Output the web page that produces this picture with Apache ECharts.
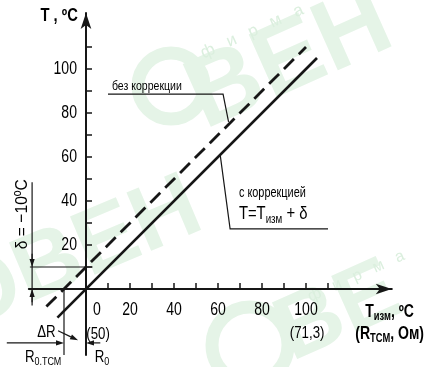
<!DOCTYPE html>
<html>
<head>
<meta charset="utf-8">
<script src="https://cdn.jsdelivr.net/npm/echarts@6/dist/echarts.min.js"></script>
<style>
  html, body { margin: 0; padding: 0; background: #fff; }
  #chart { width: 435px; height: 367px; }
</style>
</head>
<body>
<div id="chart"></div>
<script>
  const FONT = "'Liberation Sans', Arial, sans-serif";
  const INK = '#161616';
  const MARK = '#e5f4e7';

  // axis ticks / labels
  const xTicks = [10, 20, 30, 40, 50, 60, 70, 80, 90, 100, 110];
  const yTicks = [10, 20, 30, 40, 50, 60, 70, 80, 90, 100, 110];
  const xLabels = [0, 20, 40, 60, 80, 100];
  const yLabels = [20, 40, 60, 80, 100];

  // characteristic lines (T vs T_изм)
  const withoutCorrection = [[-18, -8], [100, 110]];   // dashed, shifted by +10
  const withCorrection = [[-13, -13], [105, 105]];     // solid, T = T_изм

  // thin helper lines
  const deltaLevel = [[-25.5, 10], [3, 10]];
  const deltaBar = [[-24.5, 48.5], [-24.5, -7.5]];
  const r0TcmDrop = [[-10, 0], [-10, -30]];
  const leaderWithout = [[10, 88.6], [62.3, 88.6], [64.8, 76]];
  const leaderWith = [[61, 61], [65.5, 27.3], [110, 27.3]];

  // arrows: [from, to]
  const arrowR0tcm = [[-36, -24.5], [-10, -24.5]];
  const arrowR0 = [[6.5, -24.5], [0, -24.5]];
  const arrowDR = [[-12.7, -19], [-3.6, -23.3]];
  const arrowDeltaTop = [[-24.5, 16], [-24.5, 10]];
  const arrowDeltaBottom = [[-24.5, -6], [-24.5, 0]];

  const helperLines = [deltaLevel, deltaBar, r0TcmDrop, leaderWithout, leaderWith];
  const arrows = [arrowR0tcm, arrowR0, arrowDR, arrowDeltaTop, arrowDeltaBottom];

  const rich = {
    t: { fontFamily: FONT, fontSize: 18, color: INK },
    b: { fontFamily: FONT, fontSize: 18, fontWeight: 'bold', color: INK },
    bsub: { fontFamily: FONT, fontSize: 12, fontWeight: 'bold', color: INK, verticalAlign: 'bottom', padding: [9, 0, 0, 0] },
    s: { fontFamily: FONT, fontSize: 13.5, color: INK },
    m: { fontFamily: FONT, fontSize: 14, color: INK },
    n: { fontFamily: FONT, fontSize: 17, color: INK },
    f: { fontFamily: FONT, fontSize: 19, color: INK },
    sub: { fontFamily: FONT, fontSize: 11.5, color: INK, verticalAlign: 'bottom', padding: [9, 0, 0, 0] },
    fsub: { fontFamily: FONT, fontSize: 12.5, color: INK, verticalAlign: 'bottom', padding: [10, 0, 0, 0] }
  };

  // annotations, anchored in data units
  const notes = [
    { text: '{b|T , ºC}', at: [-3.7, 124], align: 'right', sx: 0.82 },
    { text: '{s|без коррекции}', at: [11.8, 92.3], align: 'left' },
    { text: '{m|с коррекцией}', at: [69.5, 43.5], align: 'left' },
    { text: '{f|T=T}{fsub|изм}{f| + δ}', at: [69.5, 34], align: 'left' },
    { text: '{b|T}{bsub|изм}{b|, ºC}', at: [138, -10.5], align: 'center' },
    { text: '{b|(R}{bsub|ТСМ}{b|, Ом)}', at: [138, -20.5], align: 'center' },
    { text: '{n|(71,3)}', at: [100.5, -20], align: 'center' },
    { text: '{n|(50)}', at: [5.5, -20.5], align: 'center' },
    { text: '{n|ΔR}', at: [-18, -19.5], align: 'center' },
    { text: '{n|R}{sub|0.ТСМ}', at: [-19.5, -31], align: 'center' },
    { text: '{n|R}{sub|0}', at: [7.3, -31], align: 'center' },
    { text: '{n|δ = −10ºC}', at: [-29, 34], align: 'center', rotate: true, sx: 0.92 }
  ];
  yLabels.forEach(v => notes.push({ text: '{t|' + v + '}', at: [-4.1, v], align: 'right' }));
  xLabels.forEach(v => notes.push({ text: '{t|' + v + '}', at: [v === 0 ? 5 : v, -9.5], align: 'center' }));

  const chart = echarts.init(document.getElementById('chart'));

  chart.setOption({
    animation: false,
    backgroundColor: '#fff',
    grid: { left: 28.8, top: 12.9, width: 363, height: 342.1, outerBoundsMode: 'none' },
    xAxis: {
      type: 'value', min: -26, max: 139,
      splitLine: { show: false },
      axisLine: { onZero: true, lineStyle: { color: INK, width: 2 }, symbol: ['none', 'arrow'], symbolSize: [8, 16] },
      axisTick: { customValues: xTicks, inside: true, length: 6, lineStyle: { color: INK, width: 1.5 } },
      axisLabel: { show: false }
    },
    yAxis: {
      type: 'value', min: -30, max: 125.5,
      splitLine: { show: false },
      axisLine: { onZero: true, lineStyle: { color: INK, width: 2 }, symbol: ['none', 'arrow'], symbolSize: [8, 16] },
      axisTick: { customValues: yTicks, inside: true, length: 6, lineStyle: { color: INK, width: 1.5 } },
      axisLabel: { show: false }
    },
    graphic: [
      // faint watermark of the source document
      { type: 'circle', z: -10, shape: { cx: 171, cy: 86, r: 33 }, style: { stroke: MARK, lineWidth: 13, fill: null } },
      { type: 'text', z: -10, x: 214, y: 150, rotation: 0.42, style: { text: 'ВЕН', fontFamily: FONT, fontWeight: 'bold', fontSize: 100, fill: MARK, verticalAlign: 'bottom' } },
      { type: 'text', z: -10, x: 205, y: 62, rotation: 0.42, style: { text: 'ф   и   р   м   а', fontFamily: FONT, fontSize: 17, fill: '#dbefde', verticalAlign: 'bottom' } },
      { type: 'text', z: -10, x: -30, y: 350, rotation: 0.4, style: { text: 'ОВЕН', fontFamily: FONT, fontWeight: 'bold', fontSize: 92, fill: MARK, verticalAlign: 'bottom' } },
      { type: 'circle', z: -10, shape: { cx: 250, cy: 345, r: 38 }, style: { stroke: MARK, lineWidth: 13, fill: null } },
      { type: 'text', z: -10, x: 300, y: 380, rotation: 0.42, style: { text: 'ВЕ', fontFamily: FONT, fontWeight: 'bold', fontSize: 90, fill: MARK, verticalAlign: 'bottom' } },
      { type: 'text', z: -10, x: 312, y: 305, rotation: 0.42, style: { text: 'ф   и   р   м   а', fontFamily: FONT, fontSize: 16, fill: '#dbefde', verticalAlign: 'bottom' } }
    ],
    series: [
      {
        name: 'без коррекции', type: 'line', data: withoutCorrection, symbol: 'none', clip: false,
        lineStyle: { color: INK, width: 2.8, type: [14, 7] }
      },
      {
        name: 'с коррекцией', type: 'line', data: withCorrection, symbol: 'none', clip: false,
        lineStyle: { color: INK, width: 2.6 }
      },
      {
        type: 'custom', clip: false, silent: true,
        data: helperLines.map((pts, i) => [pts[0][0], pts[0][1], i]),
        encode: { x: 0, y: 1 },
        renderItem: (params, api) => {
          const pts = helperLines[api.value(2)].map(p => api.coord(p));
          return { type: 'polyline', shape: { points: pts }, style: { stroke: INK, lineWidth: 1.2, fill: null } };
        }
      },
      {
        type: 'custom', clip: false, silent: true,
        data: arrows.map((pts, i) => [pts[1][0], pts[1][1], i]),
        encode: { x: 0, y: 1 },
        renderItem: (params, api) => {
          const seg = arrows[api.value(2)];
          const a = api.coord(seg[0]), b = api.coord(seg[1]);
          const dx = b[0] - a[0], dy = b[1] - a[1];
          const len = Math.sqrt(dx * dx + dy * dy);
          const ux = dx / len, uy = dy / len;
          const hl = 8, hw = 2.6;
          const base = [b[0] - ux * hl, b[1] - uy * hl];
          return {
            type: 'group',
            children: [
              { type: 'line', shape: { x1: a[0], y1: a[1], x2: base[0], y2: base[1] }, style: { stroke: INK, lineWidth: 1.2 } },
              {
                type: 'polygon',
                shape: { points: [b, [base[0] - uy * hw, base[1] + ux * hw], [base[0] + uy * hw, base[1] - ux * hw]] },
                style: { fill: INK }
              }
            ]
          };
        }
      },
      {
        type: 'custom', clip: false, silent: true,
        data: notes.map((n, i) => [n.at[0], n.at[1], i]),
        encode: { x: 0, y: 1 },
        renderItem: (params, api) => {
          const n = notes[api.value(2)];
          const p = api.coord(n.at);
          const sx = n.sx || 0.78;
          return {
            type: 'text', x: p[0], y: p[1],
            rotation: n.rotate ? Math.PI / 2 : 0,
            scaleX: sx,
            style: { text: n.text, rich: rich, align: n.align, verticalAlign: 'middle' }
          };
        }
      }
    ]
  });
</script>
</body>
</html>
